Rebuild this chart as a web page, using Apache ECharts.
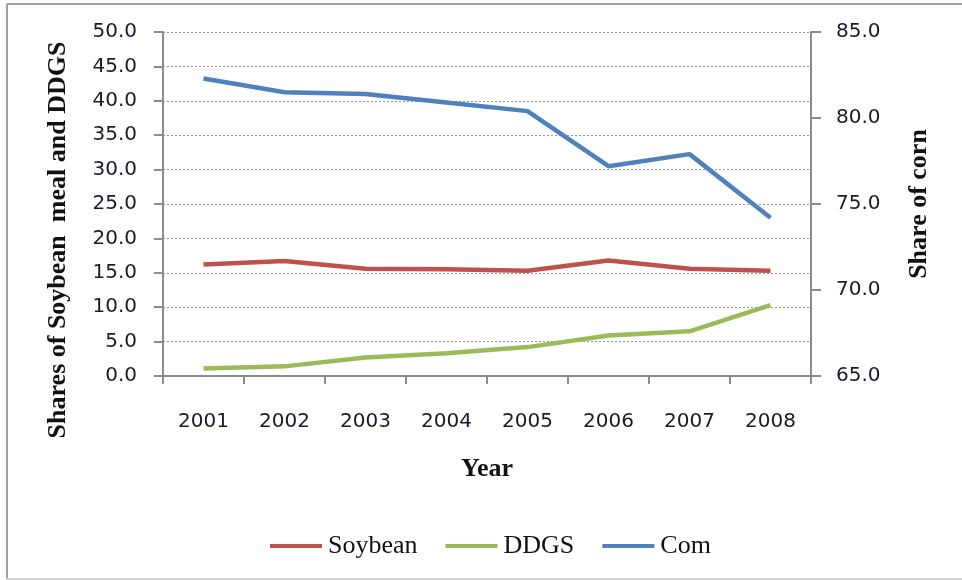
<!DOCTYPE html>
<html lang="en">
<head>
    <meta charset="UTF-8">
    <title>Shares of Soybean meal, DDGS and corn</title>
    <script src="https://cdn.jsdelivr.net/npm/echarts@6/dist/echarts.min.js"></script>
    <style>
        html, body { margin: 0; padding: 0; background: #fff; }
        #main { width: 962px; height: 580px; }
    </style>
</head>
<body>
    <div id="main"></div>
    <script type="text/javascript">
        // data
        var years = ['2001', '2002', '2003', '2004', '2005', '2006', '2007', '2008'];
        var soybean = [16.2, 16.7, 15.6, 15.5, 15.3, 16.8, 15.6, 15.3];
        var ddgs = [1.1, 1.4, 2.7, 3.3, 4.2, 5.9, 6.5, 10.3];
        var corn = [82.3, 81.5, 81.4, 80.9, 80.4, 77.2, 77.9, 74.2];

        var chart = echarts.init(document.getElementById('main'));
        var labelFont = { color: '#1a1a2e', fontFamily: 'DejaVu Sans', fontSize: 20 };
        var axisGray = { lineStyle: { color: '#8c8c8c', width: 2 } };

        var option = {
            animation: false,
            backgroundColor: '#fff',
            grid: { left: 163, right: 151, top: 32, bottom: 204 },
            legend: {
                left: 265, top: 528,
                icon: 'rect',
                itemWidth: 52, itemHeight: 4, itemGap: 28,
                textStyle: { fontFamily: 'Liberation Serif', fontSize: 26, color: '#111', padding: [0, 0, 0, 1] },
                data: ['Soybean', 'DDGS', 'Com']
            },
            xAxis: {
                type: 'category',
                data: years,
                axisLine: axisGray,
                axisTick: { show: true, length: 8, lineStyle: { color: '#8c8c8c', width: 2 } },
                axisLabel: Object.assign({ margin: 36 }, labelFont),
                name: 'Year',
                nameLocation: 'middle',
                nameGap: 80,
                nameTextStyle: { fontFamily: 'Liberation Serif', fontWeight: 'bold', fontSize: 26, color: '#111' }
            },
            yAxis: [{
                type: 'value', min: 0, max: 50, interval: 5,
                axisLine: { show: true, lineStyle: { color: '#8c8c8c', width: 2 } },
                axisTick: { show: true, length: 9, lineStyle: { color: '#8c8c8c', width: 2 } },
                axisLabel: Object.assign({ margin: 26, formatter: function (v) { return v.toFixed(1); } }, labelFont),
                splitLine: { show: true, lineStyle: { color: '#999', type: [2, 2], width: 1 } }
            }, {
                type: 'value', min: 65, max: 85, interval: 5,
                axisLine: { show: true, lineStyle: { color: '#8c8c8c', width: 2 } },
                axisTick: { show: true, length: 10, lineStyle: { color: '#8c8c8c', width: 2 } },
                axisLabel: Object.assign({ margin: 25, formatter: function (v) { return v.toFixed(1); } }, labelFont),
                splitLine: { show: false }
            }],
            series: [{
                name: 'Soybean', type: 'line', yAxisIndex: 0, data: soybean,
                symbol: 'none', color: '#C0504D', lineStyle: { width: 4.5 }
            }, {
                name: 'DDGS', type: 'line', yAxisIndex: 0, data: ddgs,
                symbol: 'none', color: '#9BBB59', lineStyle: { width: 4.5 }
            }, {
                name: 'Com', type: 'line', yAxisIndex: 1, data: corn,
                symbol: 'none', color: '#4F81BD', lineStyle: { width: 4.5 }
            }],
            graphic: [
                // chart frame
                { type: 'line', shape: { x1: 7, y1: 4, x2: 962, y2: 4 }, style: { stroke: '#a0a0a0', lineWidth: 2 } },
                { type: 'line', shape: { x1: 7, y1: 4, x2: 7, y2: 579 }, style: { stroke: '#a0a0a0', lineWidth: 2 } },
                { type: 'line', shape: { x1: 7, y1: 579, x2: 962, y2: 579 }, style: { stroke: '#d4d4d4', lineWidth: 2 } },
                // axis titles placed like the original
                {
                    type: 'text', x: 58, y: 240, rotation: Math.PI / 2,
                    style: {
                        text: 'Shares of Soybean  meal and DDGS', fill: '#111',
                        font: 'bold 26px "Liberation Serif"', align: 'center', verticalAlign: 'middle'
                    }
                },
                {
                    type: 'text', x: 919, y: 204, rotation: Math.PI / 2,
                    style: {
                        text: 'Share of corn', fill: '#111',
                        font: 'bold 26px "Liberation Serif"', align: 'center', verticalAlign: 'middle'
                    }
                }
            ]
        };
        chart.setOption(option);
    </script>
</body>
</html>
